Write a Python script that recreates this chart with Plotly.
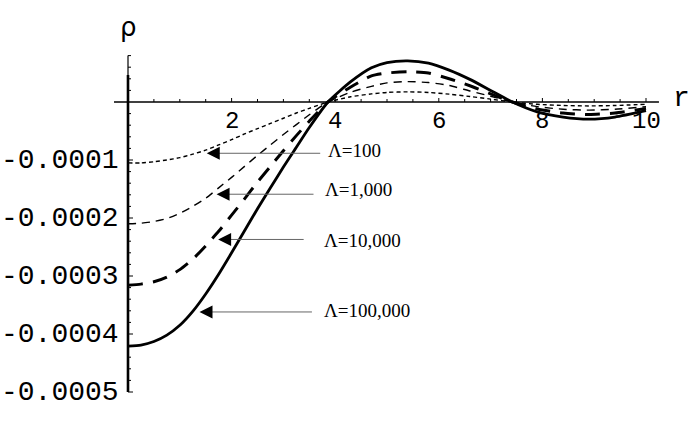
import plotly.graph_objects as go

# ---------------- data ----------------
r = [0, 0.25, 0.5, 0.75, 1.0, 1.25, 1.5, 1.75, 2.0, 2.25, 2.5, 2.75, 3.0, 3.25, 3.5,
     3.86, 4.3, 4.7, 5.0, 5.4, 5.8, 6.2, 6.6, 7.0, 7.42, 7.9, 8.4, 8.9, 9.4, 10.0]

rho_100 = [-105, -105, -103, -100, -96, -90, -83, -74, -65, -55, -46, -37, -28, -19, -11,
           0, 9, 14, 16.5, 17.5, 16.5, 13.5, 9.5, 5, 0, -4, -6, -6.8, -6, -4]
rho_1000 = [-210, -209, -206, -201, -192, -180, -166, -148, -130, -111, -92, -74, -56, -39, -22,
            0, 17, 27, 33, 35.2, 33.5, 28.5, 19, 10, 0, -8, -12.5, -14, -12.5, -8]
rho_10000 = [-316, -314, -310, -302, -289, -271, -248, -223, -195, -167, -138, -111, -84, -58, -33,
             0, 26, 45, 50, 52, 50, 40, 28, 14, 0, -12, -19, -21.5, -19, -11]
rho_100000 = [-421, -419, -413, -402, -385, -361, -331, -297, -260, -222, -184, -148, -112, -78, -44,
              0, 35, 59, 68, 71, 67, 55, 39, 20, 0, -17, -26, -29.5, -26, -15]

labels = ["\u039b=100", "\u039b=1,000", "\u039b=10,000", "\u039b=100,000"]
x_ticks = [2, 4, 6, 8, 10]
y_ticks = [-0.0001, -0.0002, -0.0003, -0.0004, -0.0005]
y_tick_labels = ["-0.0001", "-0.0002", "-0.0003", "-0.0004", "-0.0005"]

SCALE = 1e-6
series = [rho_100, rho_1000, rho_10000, rho_100000]
styles = [
    dict(width=1.4, dash="4px,3px"),
    dict(width=1.4, dash="8px,6px"),
    dict(width=3.0, dash="15px,10px"),
    dict(width=2.8, dash="solid"),
]

fig = go.Figure()
for vals, st, lab in zip(series, styles, labels):
    fig.add_trace(go.Scatter(
        x=r, y=[v * SCALE for v in vals], mode="lines", name=lab,
        line=dict(color="black", width=st["width"], dash=st["dash"],
                  shape="spline", smoothing=0.6),
        hoverinfo="skip", showlegend=False))

# ---------------- axes drawn Mathematica style ----------------
px_x = 51.8      # pixels per r unit
px_y = 580000.0  # pixels per rho unit
shapes = []
# x axis
shapes.append(dict(type="line", xref="x", yref="y", x0=-0.27, x1=10.25, y0=0, y1=0,
                   line=dict(color="black", width=1.5)))
# y axis (thin top part, thick remainder)
shapes.append(dict(type="line", xref="x", yref="y", x0=0, x1=0, y0=0.00008, y1=0.0000466,
                   line=dict(color="black", width=1.2)))
shapes.append(dict(type="line", xref="x", yref="y", x0=0, x1=0, y0=0.0000466, y1=-0.0005,
                   line=dict(color="black", width=2.6)))
# x ticks every 0.5 (upward)
for i in range(1, 21):
    xv = i * 0.5
    shapes.append(dict(type="line", xref="x", yref="y", x0=xv, x1=xv, y0=0,
                       y1=(4 if i % 4 == 0 else 3) / px_y,
                       line=dict(color="black", width=1)))
# y ticks every 0.00002 (to the right)
for j in range(-25, 5):
    if j == 0:
        continue
    yv = j * 0.00002
    major = (j % 5 == 0)
    shapes.append(dict(type="line", xref="x", yref="y", x0=0,
                       x1=(5 if major else 3) / px_x, y0=yv, y1=yv,
                       line=dict(color="black", width=1)))

annotations = []
mono = "Liberation Mono, Courier New, monospace"
for xv in x_ticks:
    annotations.append(dict(x=xv, y=0, xref="x", yref="y", text=str(xv), showarrow=False,
                            xanchor="center", yanchor="middle", yshift=-19,
                            font=dict(family=mono, size=24, color="black")))
for yv, t in zip(y_ticks, y_tick_labels):
    annotations.append(dict(x=0, y=yv, xref="x", yref="y", text=t, showarrow=False,
                            xanchor="right", yanchor="middle", xshift=-7,
                            font=dict(family=mono, size=28, color="black")))
annotations.append(dict(x=0, y=0.0001293, xref="x", yref="y", text="\u03c1", showarrow=False,
                        xanchor="center", yanchor="middle",
                        font=dict(family="DejaVu Sans, sans-serif", size=26, color="black")))
annotations.append(dict(x=10.68, y=0.0000069, xref="x", yref="y", text="r", showarrow=False,
                        xanchor="center", yanchor="middle",
                        font=dict(family=mono, size=28, color="black")))

# arrows and Lambda labels (head, tail, label position)
arrow_heads = [(1.52, -0.0000884), (1.71, -0.000159), (1.74, -0.000237), (1.38, -0.000362)]
arrow_tails = [3.74, 3.61, 3.42, 3.58]
label_pos = [(3.82, -0.0000840), (3.77, -0.0001505), (3.74, -0.000239), (3.74, -0.000359)]
serif = "Liberation Serif, Times New Roman, serif"
for (hx, hy), tx, (lx, ly), lab in zip(arrow_heads, arrow_tails, label_pos, labels):
    # grey shaft
    annotations.append(dict(x=hx + 0.05, y=hy, ax=tx, ay=hy, xref="x", yref="y",
                            axref="x", ayref="y", text="", showarrow=True, arrowhead=0,
                            arrowwidth=1, arrowcolor="#666666"))
    # black head
    annotations.append(dict(x=hx, y=hy, ax=hx + 0.2, ay=hy, xref="x", yref="y",
                            axref="x", ayref="y", text="", showarrow=True, arrowhead=2,
                            arrowsize=2.6, arrowwidth=1, arrowcolor="black"))
    annotations.append(dict(x=lx, y=ly, xref="x", yref="y", text=lab, showarrow=False,
                            xanchor="left", yanchor="middle",
                            font=dict(family=serif, size=19, color="black")))

fig.update_layout(
    width=691, height=436,
    margin=dict(l=0, r=0, t=0, b=0),
    paper_bgcolor="white", plot_bgcolor="white",
    xaxis=dict(range=[-128 / px_x, (691 - 128) / px_x], visible=False, fixedrange=True),
    yaxis=dict(range=[-(436 - 102) / px_y, 102 / px_y], visible=False, fixedrange=True),
    shapes=shapes, annotations=annotations,
)

fig.write_html("out.html", config={"displayModeBar": False},
               post_script="document.body.style.margin='0';document.body.style.padding='0';")
